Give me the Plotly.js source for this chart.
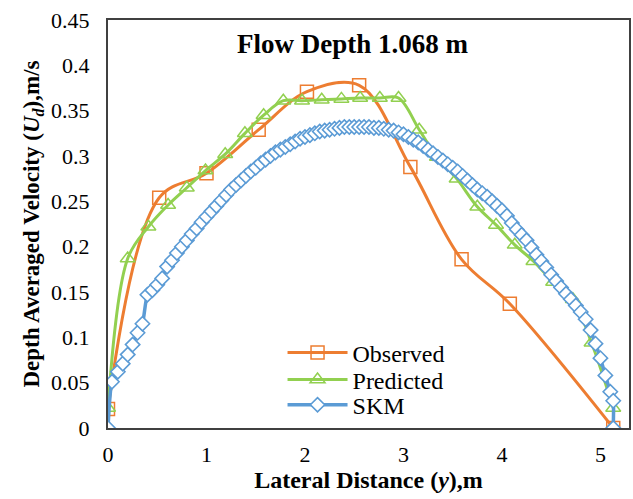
<!DOCTYPE html>
<html>
<head>
<meta charset="utf-8">
<script src="https://cdn.plot.ly/plotly-3.0.1.min.js"></script>
<style>html,body{margin:0;padding:0;background:#fff;}#chart{width:633px;height:499px;}</style>
</head>
<body>
<div id="chart"></div>
<script>
// Observed
const obsX = [0, 0.52, 1.0, 1.53, 2.02, 2.55, 3.07, 3.59, 4.08, 5.13];
const obsY = [0.021, 0.254, 0.281, 0.329, 0.371, 0.378, 0.288, 0.186, 0.137, 0];
// Predicted
const predX = [0, 0.2, 0.41, 0.61, 0.80, 0.99, 1.19, 1.39, 1.58, 1.78, 1.97, 2.17, 2.37, 2.56, 2.76, 2.95,
               3.16, 3.34, 3.54, 3.75, 3.94, 4.13, 4.32, 4.52, 4.72, 4.91, 5.13];
const predY = [0.022, 0.187, 0.222, 0.246, 0.265, 0.284, 0.302, 0.325, 0.345, 0.361, 0.361, 0.362, 0.363, 0.364, 0.364, 0.364,
               0.329, 0.299, 0.275, 0.244, 0.224, 0.202, 0.184, 0.161, 0.142, 0.094, 0.022];
// SKM
const skmX = [0, 0.04, 0.1, 0.15, 0.2, 0.25, 0.3, 0.35, 0.4, 0.45, 0.5, 0.55, 0.6, 0.65, 0.7, 0.75, 0.8, 0.85, 0.9, 0.95,
              1.0, 1.05, 1.1, 1.15, 1.2, 1.25, 1.3, 1.35, 1.4, 1.45, 1.5, 1.55, 1.6, 1.65, 1.7, 1.75, 1.8, 1.85, 1.9, 1.95,
              2.0, 2.05, 2.1, 2.15, 2.2, 2.25, 2.3, 2.35, 2.4, 2.45, 2.5, 2.55, 2.6, 2.65, 2.7, 2.75, 2.8, 2.85, 2.9, 2.95,
              3.0, 3.05, 3.1, 3.15, 3.2, 3.25, 3.3, 3.35, 3.4, 3.45, 3.5, 3.55, 3.6, 3.65, 3.7, 3.75, 3.8, 3.85, 3.9, 3.95,
              4.0, 4.05, 4.1, 4.15, 4.2, 4.25, 4.3, 4.35, 4.4, 4.45, 4.5, 4.55, 4.6, 4.65, 4.7, 4.75, 4.8, 4.85, 4.9, 4.95,
              5.0, 5.05, 5.1, 5.13, 5.13];
const skmY = [0, 0.051, 0.062, 0.071, 0.081, 0.092, 0.105, 0.115, 0.147, 0.152, 0.158, 0.165, 0.178, 0.185, 0.193, 0.2, 0.207, 0.214, 0.22, 0.227,
              0.233, 0.239, 0.245, 0.251, 0.257, 0.263, 0.268, 0.273, 0.278, 0.283, 0.287, 0.292, 0.296, 0.3, 0.304, 0.307, 0.31, 0.313, 0.316, 0.319,
              0.321, 0.323, 0.325, 0.327, 0.328, 0.329, 0.33, 0.331, 0.332, 0.332, 0.332, 0.332, 0.332, 0.332, 0.331, 0.331, 0.33, 0.329, 0.328, 0.326,
              0.324, 0.321, 0.318, 0.315, 0.311, 0.307, 0.303, 0.299, 0.295, 0.291, 0.287, 0.283, 0.278, 0.273, 0.268, 0.263, 0.259, 0.255, 0.25, 0.245,
              0.24, 0.234, 0.226, 0.219, 0.213, 0.207, 0.199, 0.191, 0.184, 0.177, 0.169, 0.162, 0.155, 0.148, 0.142, 0.135, 0.128, 0.12, 0.108, 0.093,
              0.077, 0.058, 0.04, 0.03, 0];

const FONT = 'Liberation Serif, Times New Roman, serif';
const traces = [
  {x: obsX, y: obsY, name: 'Observed', type: 'scatter', mode: 'lines+markers', legend: 'legend',
   line: {color: '#ED7D31', width: 3, shape: 'spline', smoothing: 1},
   marker: {symbol: 'square-open', size: 13, color: '#ED7D31', line: {width: 1.5, color: '#ED7D31'}}},
  {x: predX, y: predY, name: 'Predicted', type: 'scatter', mode: 'lines+markers', legend: 'legend2',
   line: {color: '#92D050', width: 3, shape: 'spline', smoothing: 1},
   marker: {symbol: 'triangle-up-open', size: 13, color: '#92D050', line: {width: 1.5, color: '#92D050'}}},
  {x: skmX, y: skmY, name: 'SKM', type: 'scatter', mode: 'lines+markers', legend: 'legend3',
   line: {color: '#5B9BD5', width: 3.5, shape: 'spline', smoothing: 0.6},
   marker: {symbol: 'diamond', size: 11, color: '#FFFFFF', line: {width: 1.6, color: '#5B9BD5'}}}
];

function leg(y) {
  return {x: 0.335, y: y, xanchor: 'left', yanchor: 'middle', bgcolor: 'rgba(0,0,0,0)',
          font: {family: FONT, size: 24, color: '#000'}, tracegroupgap: 0, itemwidth: 60};
}

const layout = {
  width: 633, height: 499,
  margin: {l: 108, r: 4, t: 20, b: 71, pad: 0},
  paper_bgcolor: '#FFFFFF', plot_bgcolor: '#FFFFFF',
  font: {family: FONT, size: 22, color: '#000'},
  showlegend: true,
  legend: leg(0.184),
  legend2: leg(0.118),
  legend3: leg(0.056),
  xaxis: {range: [0, 5.29], dtick: 1, tick0: 0, showgrid: false, zeroline: false,
          showline: true, linecolor: '#404040', linewidth: 2, mirror: true, ticks: '',
          ticklabelstandoff: 6,
          tickfont: {family: FONT, size: 22, color: '#000'},
          title: {text: '<b>Lateral Distance (<i>y</i>),m</b>', font: {family: FONT, size: 24, color: '#000'}, standoff: 4}},
  yaxis: {range: [0, 0.45], dtick: 0.05, tick0: 0, showgrid: false, zeroline: false,
          showline: true, linecolor: '#404040', linewidth: 2, mirror: true, ticks: '',
          ticklabelstandoff: 12,
          tickfont: {family: FONT, size: 22, color: '#000'},
          title: {text: '<b>Depth Averaged Velocity (<i>U<sub>d</sub></i>),m/s</b>', font: {family: FONT, size: 23, color: '#000'}, standoff: 5}},
  annotations: [{text: '<b>Flow Depth 1.068 m</b>', xref: 'paper', yref: 'paper', x: 0.47, y: 0.94,
                 xanchor: 'center', yanchor: 'middle', showarrow: false,
                 font: {family: FONT, size: 27, color: '#000'}}]
};

Plotly.newPlot('chart', traces, layout, {staticPlot: true, displayModeBar: false});
</script>
</body>
</html>
